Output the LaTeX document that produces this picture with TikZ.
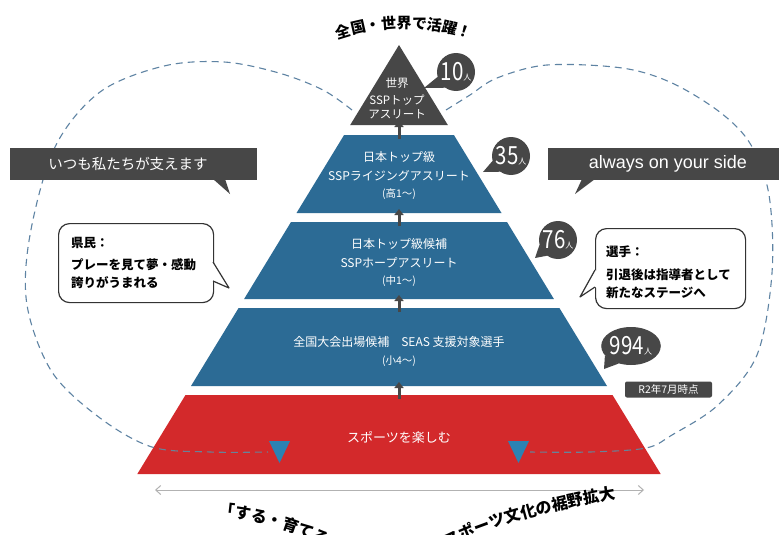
\documentclass[tikz,border=0pt]{standalone}
\usepackage{fontspec}
\setmainfont{Noto Sans CJK JP}
\newfontfamily\latinsans{Liberation Sans}
\usetikzlibrary{arrows.meta,decorations.text,shapes.geometric}
\newcommand\fsz[2]{\fontsize{#1}{#2}\selectfont}
\newcommand\cnt[1]{\scalebox{0.82}[1]{\fsz{25}{25}#1}{\fsz{8}{8}人}}
\definecolor{pblue}{HTML}{2C6B95}
\definecolor{pred}{HTML}{D3292B}
\definecolor{pdark}{HTML}{474747}
\definecolor{dashc}{HTML}{5E83A3}
\definecolor{tblue}{HTML}{2B82B3}
\begin{document}
\begin{tikzpicture}[x=1pt,y=-1pt,
  dashline/.style={draw=dashc, line width=1.1pt, dash pattern=on 7pt off 5pt},
  uparrow/.style={draw=pdark, line width=3pt, -{Triangle[width=9pt,length=6pt]}},
  tierlbl/.style={text=white, font=\fsz{12}{19}, align=center, inner sep=0pt},
  sublbl/.style={text=white, font=\fsz{10.5}{12}, inner sep=0pt},
  countb/.style={circle, fill=pdark, text=white, inner sep=0pt, minimum size=38pt},
  banner/.style={fill=pdark},
  bubble/.style={draw=black!80, fill=white, line width=1.2pt, rounded corners=11pt},
  bubtxt/.style={font=\fsz{12.5}{14}\bfseries, anchor=west, inner sep=0pt}]
\fill[white] (0,0) rectangle (779,535);
\useasboundingbox (0,0) rectangle (779,535);

% dashed arcs (behind the pyramid)
\draw[dashline] plot[smooth,tension=0.55] coordinates {(352,110) (323,90) (279,73) (224,62) (164,66) (100,92) (55,147) (30,235) (27,305) (52,372) (100,418) (152,447) (210,452) (268,452)};
\draw[dashline] plot[smooth,tension=0.55] coordinates {(446,110) (470,95) (497,78) (547,65) (622,68) (672,83) (721,113) (751,145) (769,195) (772,273) (757,355) (718,405) (672,435) (646,448) (590,452) (530,452)};

% pyramid
\fill[pdark] (399,45) -- (447.8,125) -- (350.2,125) -- cycle;
\fill[pblue] (344.1,135) -- (453.9,135) -- (501.5,213) -- (296.5,213) -- cycle;
\fill[pblue] (291,222) -- (507,222) -- (553.9,299) -- (244.1,299) -- cycle;
\fill[pblue] (238.6,308) -- (559.4,308) -- (607,386) -- (191,386) -- cycle;
\fill[pred] (185.5,395) -- (612.5,395) -- (660.7,474) -- (137.3,474) -- cycle;

% arrows between tiers
\coordinate (a1s) at (399,139); \coordinate (a1e) at (399,121);
\coordinate (a2s) at (399,226); \coordinate (a2e) at (399,209);
\coordinate (a3s) at (399,312); \coordinate (a3e) at (399,295);
\coordinate (a4s) at (399,399); \coordinate (a4e) at (399,382);
\draw[uparrow] (a1s) -- (a1e);
\draw[uparrow] (a2s) -- (a2e);
\draw[uparrow] (a3s) -- (a3e);
\draw[uparrow] (a4s) -- (a4e);

% dashed lines inside red band
\begin{scope}
\clip (185.5,395) -- (612.5,395) -- (660.7,474) -- (137.3,474) -- cycle;
\draw[dashline, draw=dashc!70!gray] plot[smooth,tension=0.55] coordinates {(352,110) (323,90) (279,73) (224,62) (164,66) (100,92) (55,147) (30,235) (27,305) (52,372) (100,418) (152,447) (210,452) (268,452)};
\draw[dashline, draw=dashc!70!gray] plot[smooth,tension=0.55] coordinates {(446,110) (470,95) (497,78) (547,65) (622,68) (672,83) (721,113) (751,145) (769,195) (772,273) (757,355) (718,405) (672,435) (646,448) (590,452) (530,452)};
\end{scope}
\fill[tblue] (269,441) -- (290,441) -- (279.5,463) -- cycle;
\fill[tblue] (508,441) -- (529,441) -- (518.5,463) -- cycle;

% tier labels
\node[tierlbl, font=\fsz{11.5}{14}] (t1) at (397,98) {世界\\[3pt]SSPトップ\\アスリート};
\node[tierlbl] (t2a) at (399,157) {日本トップ級};
\node[tierlbl] (t2b) at (399,176) {SSPライジングアスリート};
\node[sublbl] (t2c) at (399,194) {(高1～)};
\node[tierlbl] (t3a) at (399,244) {日本トップ級候補};
\node[tierlbl] (t3b) at (399,263) {SSPホープアスリート};
\node[sublbl] (t3c) at (399,281) {(中1～)};
\node[tierlbl] (t4a) at (399,342) {全国大会出場候補　SEAS 支援対象選手};
\node[sublbl] (t4b) at (399,361) {(小4～)};
\node[tierlbl, font=\fsz{13}{14}] (t5) at (399,437) {スポーツを楽しむ};

% count bubbles
\node[countb] (c10) at (456,72) {\cnt{10}};
\coordinate (c10t) at (424,88);
\fill[pdark] (c10.195) -- (c10t) -- (c10.235) -- cycle;
\node[countb] (c35) at (511,156) {\cnt{35}};
\coordinate (c35t) at (483,172);
\fill[pdark] (c35.195) -- (c35t) -- (c35.235) -- cycle;
\node[countb] (c76) at (558,240) {\cnt{76}};
\coordinate (c76t) at (535,258);
\fill[pdark] (c76.195) -- (c76t) -- (c76.235) -- cycle;
\node[ellipse, fill=pdark, text=white, inner sep=0pt, minimum width=55pt, minimum height=38pt] (c994) at (631,346) {\cnt{994}};
\coordinate (c994t) at (604,369);
\fill[pdark] (c994.200) -- (c994t) -- (c994.235) -- cycle;
\node[fill=pdark, rounded corners=2pt, text=white, font=\fsz{10.5}{12}, minimum width=87pt, minimum height=16pt, inner sep=0pt] (asof) at (668.5,389.5) {R2年7月時点};

% banners
\node[banner, minimum width=247pt, minimum height=32pt, anchor=north west, inner sep=0pt] (bl) at (10,148) {};
\fill[pdark] (213,179) -- (230,194) -- (225,179) -- cycle;
\node[text=white, font=\fsz{14.5}{16}, inner sep=0pt] (blt) at (128,164) {いつも私たちが支えます};
\node[banner, minimum width=235pt, minimum height=32pt, anchor=north west, inner sep=0pt] (br) at (548,148) {};
\fill[pdark] (582,179) -- (575,194) -- (595,179) -- cycle;
\node[text=white, font=\latinsans\fsz{18}{20}, inner sep=0pt] (brt) at (668,164) {always on your side};

% speech bubbles
\node[bubble, minimum width=155pt, minimum height=79pt, anchor=north west, inner sep=0pt] (kenmin) at (58,223) {};
\fill[white] (211,263) -- (213,262) -- (229,288) -- (213,281) -- (211,280) -- cycle;
\draw[draw=black!80, line width=1.2pt, line join=round] (213,262) -- (229,288) -- (213,281);
\node[bubtxt] (k1) at (71,243) {県民：};
\node[bubtxt] (k2) at (71,265) {プレーを見て夢・感動};
\node[bubtxt] (k3) at (71,283) {誇りがうまれる};

\node[bubble, minimum width=150pt, minimum height=80pt, anchor=north west, inner sep=0pt] (senshu) at (595,228) {};
\fill[white] (597,271) -- (595,270) -- (580,297) -- (595,287) -- (597,288) -- cycle;
\draw[draw=black!80, line width=1.2pt, line join=round] (595,270) -- (580,297) -- (595,287);
\node[bubtxt] (s1) at (606,252) {選手：};
\node[bubtxt] (s2) at (606,275) {引退後は指導者として};
\node[bubtxt] (s3) at (606,293) {新たなステージへ};

% width arrow
\coordinate (wl) at (155,490); \coordinate (wr) at (644,490);
\draw[gray!60, line width=1pt, {Straight Barb[length=5pt,width=9pt]}-{Straight Barb[length=5pt,width=9pt]}] (wl) -- (wr);

% curved titles
\path[decorate, decoration={text along path, text align=center, text={|\fsz{15}{15}\bfseries|全国・世界で活躍！}}] ([shift={(113:200pt)}]404,228) arc[start angle=113, end angle=67, radius=200pt];
\coordinate (bt0) at (210,515);
\coordinate (btm1) at (340,552);
\coordinate (btm2) at (450,546);
\coordinate (bt1) at (624,497);
\path[decorate, decoration={text along path, text align=center, text={|\fsz{16}{16}\bfseries|「する・育てる・観る・支える」スポーツ文化の裾野拡大}}] (bt0) .. controls (260,518) and (300,533) .. (btm1) .. controls (380,572) and (415,566) .. (btm2) .. controls (500,522) and (560,508) .. (bt1);
\end{tikzpicture}
\end{document}
